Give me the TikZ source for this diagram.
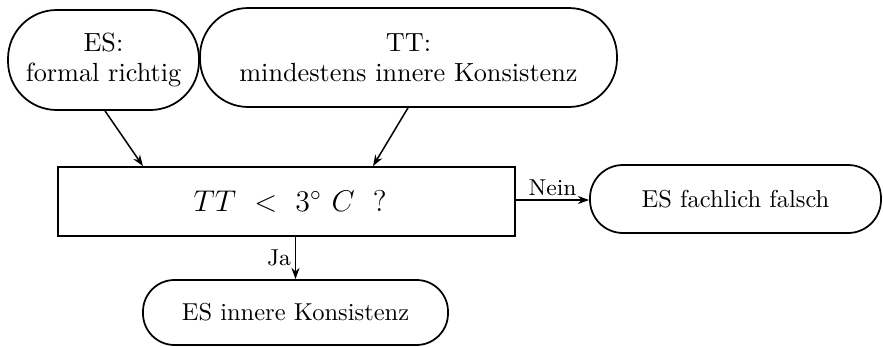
\documentclass[tikz,border=0pt]{standalone}
\usetikzlibrary{arrows.meta,calc}
\begin{document}
\begin{tikzpicture}[x=0.4pt,y=-0.4pt,
  box/.style={draw, line width=0.7pt, inner sep=0pt, align=center},
  topfont/.style={font=\fontsize{10.5}{12}\selectfont},
  lowfont/.style={font=\fontsize{9.8}{12}\selectfont},
  conn/.style={line width=0.6pt, -{Stealth[length=4.5pt,width=3.2pt]}},
  lbl/.style={font=\fontsize{9.2}{11}\selectfont, inner sep=1.5pt}]
\useasboundingbox (0,0) rectangle (883,347);
\node[box, topfont, rounded corners=19.5pt, minimum width=191*0.4pt, minimum height=100*0.4pt] (ES) at (103.5,60) {ES:\\formal richtig};
\node[box, topfont, rounded corners=19.3pt, minimum width=417*0.4pt, minimum height=99*0.4pt] (TT) at (408.5,57.5) {TT:\\mindestens innere Konsistenz};
\node[box, font=\fontsize{12}{14}\selectfont, minimum width=457*0.4pt, minimum height=69*0.4pt] (Dec) at (286.5,201.5) {\hspace*{3pt}$TT\ <\ 3^\circ\ C\ \;?$};
\node[box, lowfont, rounded corners=13.2pt, minimum width=291*0.4pt, minimum height=68*0.4pt] (FF) at (735.5,199) {ES fachlich falsch};
\node[box, lowfont, rounded corners=12.6pt, minimum width=305*0.4pt, minimum height=65*0.4pt] (IK) at (295.5,312.5) {ES innere Konsistenz};
\draw[conn] ($(ES.south)+(1.5,0)$) -- ($(Dec.north)+(-143.5,0)$);
\draw[conn] ($(TT.south)+(-0.5,0)$) -- ($(Dec.north)+(86.5,0)$);
\draw[conn] (IK.north |- Dec.south) -- node[lbl, left] {Ja} (IK.north);
\draw[conn] ($(Dec.east)+(0,-1.5)$) -- node[lbl, above] {Nein} (FF.west |- {$(Dec.east)+(0,-1.5)$});
\end{tikzpicture}
\end{document}
